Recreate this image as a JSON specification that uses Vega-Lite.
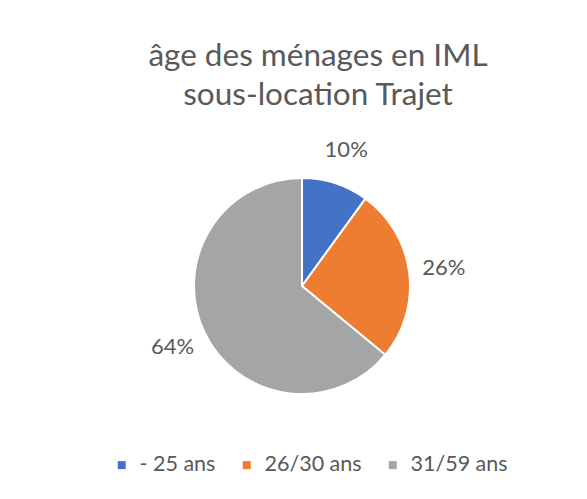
{
  "$schema": "https://vega.github.io/schema/vega-lite/v6.json",
  "width": 230,
  "height": 230,
  "autosize": {"type": "none"},
  "padding": {"left": 187, "top": 171, "right": 170, "bottom": 98},
  "background": "white",
  "title": {
    "text": ["âge des ménages en IML", "sous-location Trajet"],
    "font": "Lato",
    "fontSize": 31.5,
    "fontWeight": "normal",
    "color": "#595959",
    "lineHeight": 39,
    "offset": 27,
    "dx": 16,
    "anchor": "middle"
  },
  "data": {
    "values": [
      {"tranche": "- 25 ans", "part": 0.10},
      {"tranche": "26/30 ans", "part": 0.26},
      {"tranche": "31/59 ans", "part": 0.64}
    ]
  },
  "encoding": {
    "theta": {"field": "part", "type": "quantitative", "stack": true},
    "color": {
      "field": "tranche",
      "type": "nominal",
      "sort": null,
      "scale": {
        "domain": ["- 25 ans", "26/30 ans", "31/59 ans"],
        "range": ["#4472C4", "#ED7D31", "#A5A5A5"]
      },
      "legend": {
        "title": null,
        "orient": "none",
        "direction": "horizontal",
        "legendX": -76,
        "legendY": 283,
        "padding": 0,
        "symbolType": "square",
        "symbolSize": 64,
        "symbolStrokeWidth": 0,
        "labelFont": "Lato",
        "labelFontSize": 21.5,
        "labelColor": "#595959",
        "labelOffset": 7,
        "columnPadding": 20
      }
    }
  },
  "layer": [
    {
      "mark": {"type": "arc", "outerRadius": 108, "stroke": "white", "strokeWidth": 2}
    },
    {
      "mark": {"type": "text", "radius": 143, "font": "Lato", "fontSize": 22, "color": "#595959"},
      "encoding": {
        "text": {"field": "part", "type": "quantitative", "format": ".0%"},
        "color": {"value": "#595959"}
      }
    }
  ],
  "config": {"view": {"stroke": null}}
}
